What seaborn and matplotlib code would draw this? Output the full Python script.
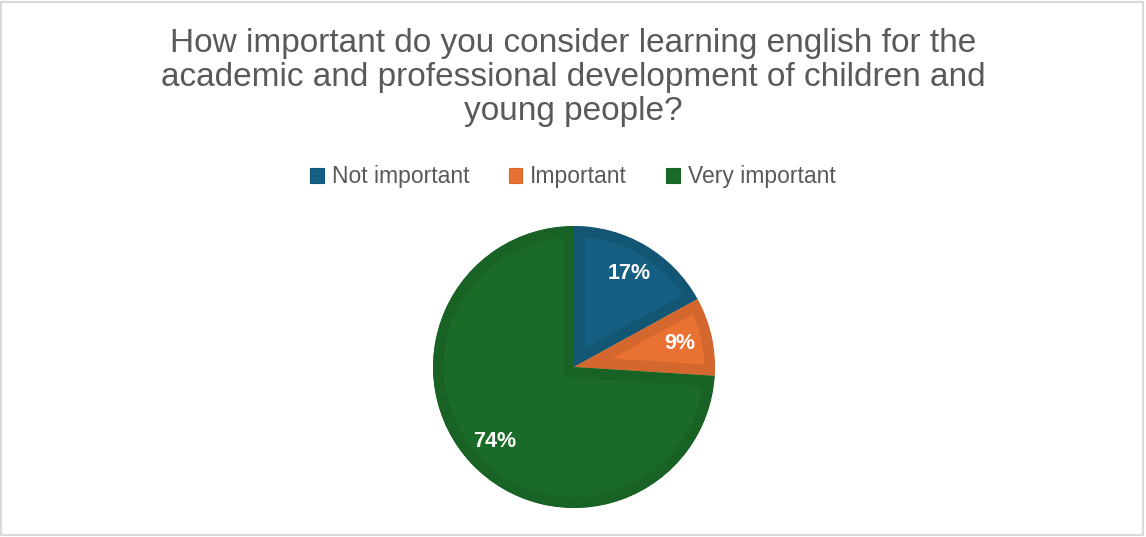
import matplotlib
matplotlib.use("Agg")
import matplotlib.pyplot as plt
import seaborn as sns
from matplotlib.patches import Patch, Rectangle

sns.set_theme(style="white")
plt.rcParams['font.family'] = ['Liberation Sans', 'DejaVu Sans']

title_lines = [
    "How important do you consider learning english for the",
    "academic and professional development of children and",
    "young people?",
]
categories = ["Not important", "Important", "Very important"]
shares = [17, 9, 74]
colors = ["#156082", "#E97132", "#1A6B27"]
rim_colors = ["#135673", "#D4672E", "#196225"]

text_grey = "#595959"

fig = plt.figure(figsize=(11.46, 5.37), dpi=100)
fig.patch.set_facecolor("white")

# pie axes: 282 px square centred on the lower half
ax = fig.add_axes([0.3778, 0.054, 0.2461, 0.5251])
wedges, _, pct_texts = ax.pie(
    shares,
    colors=colors,
    startangle=90,
    counterclock=False,
    autopct=lambda p: f"{p:.0f}%",
    pctdistance=0.77,
    textprops=dict(color="white", fontsize=15.5, fontweight="bold"),
)
# darker inner rim on every slice: thick edge clipped to the slice itself
for w, rc in zip(wedges, rim_colors):
    w.set_edgecolor(rc)
    w.set_linewidth(15.5)
    w.set_joinstyle("miter")
    w.set_clip_on(True)
    w.set_clip_path(w.get_path(), w.get_transform())
ax.set_xlim(-1, 1)
ax.set_ylim(-1, 1)
ax.set_aspect("equal")
ax.axis("off")

# title
fig.text(0.5, 1 - 28 / 537, "\n".join(title_lines), ha="center", va="top",
         fontsize=24, color=text_grey, linespacing=1.13)

# legend
handles = [Patch(facecolor=c, edgecolor=rc, linewidth=0.8) for c, rc in zip(colors, rim_colors)]
fig.legend(handles, categories, loc="center", bbox_to_anchor=(0.5, 1 - 177 / 537),
           ncol=3, frameon=False, fontsize=16.5, labelcolor=text_grey,
           handlelength=0.6, handleheight=0.6, handletextpad=0.35, columnspacing=1.7)

# light frame around the chart area
fig.patches.append(Rectangle((1 / 1146, 2 / 537), 1142 / 1146, 533 / 537,
                             transform=fig.transFigure, fill=False,
                             edgecolor="#D9D9D9", linewidth=1.5))

fig.savefig("out.png", dpi=100)
